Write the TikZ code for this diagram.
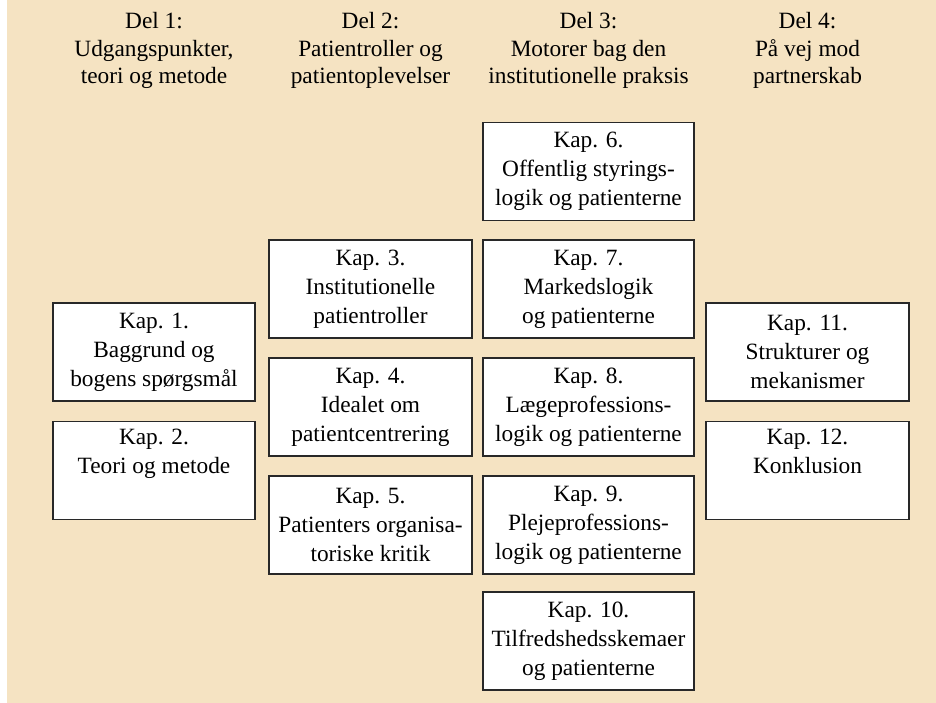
\documentclass[tikz,border=0pt]{standalone}
\usepackage{fontspec}
\setmainfont{Liberation Serif}
\definecolor{bg}{RGB}{245,227,194}
\definecolor{edge}{RGB}{40,40,40}
\begin{document}
\begin{tikzpicture}[x=0.75pt,y=-0.75pt,
  kap/.style={draw=edge, line width=0.9pt, fill=white, align=center, inner sep=0pt,
    minimum height=73.5pt, font=\fontsize{17.5}{21.7}\selectfont},
  colA/.style={minimum width=151.5pt},
  colB/.style={minimum width=152.25pt},
  colC/.style={minimum width=158.25pt},
  colD/.style={minimum width=152.25pt},
  del/.style={align=center, inner sep=0pt, font=\fontsize{17.5}{20.4}\selectfont}]
\fill[white] (0,0) rectangle (936,703);
\fill[bg] (7,0) rectangle (936,703);
\useasboundingbox (0,0) rectangle (936,703);
% headers
\node[del] (d1) at (154,50.5) {Del 1:\\Udgangspunkter,\\teori og metode};
\node[del] (d2) at (370.5,50.5) {Del 2:\\Patientroller og\\patientoplevelser};
\node[del] (d3) at (588.5,50.5) {Del 3:\\Motorer bag den\\institutionelle praksis};
\node[del] (d4) at (807.5,50.5) {Del 4:\\På vej mod\\partnerskab};
% column 1
\node[kap,colA] (k1) at (154,352) {Kap. 1.\\Baggrund og\\bogens spørgsmål};
\node[kap,colA] (k2) at (154,470.5) {Kap. 2.\\Teori og metode\\\strut};
% column 2
\node[kap,colB] (k3) at (370.5,289) {Kap. 3.\\Institutionelle\\patientroller};
\node[kap,colB] (k4) at (370.5,407) {Kap. 4.\\Idealet om\\patientcentrering};
\node[kap,colB] (k5) at (370.5,525) {Kap. 5.\\Patienters organisa-\\toriske kritik};
% column 3
\node[kap,colC] (k6) at (588.5,171.5) {Kap. 6.\\Offentlig styrings-\\logik og patienterne};
\node[kap,colC] (k7) at (588.5,289) {Kap. 7.\\Markedslogik\\og patienterne};
\node[kap,colC] (k8) at (588.5,407) {Kap. 8.\\Lægeprofessions-\\logik og patienterne};
\node[kap,colC] (k9) at (588.5,525) {Kap. 9.\\Plejeprofessions-\\logik og patienterne};
\node[kap,colC] (k10) at (588.5,641) {Kap. 10.\\Tilfredshedsskemaer\\og patienterne};
% column 4
\node[kap,colD] (k11) at (807.5,352) {Kap. 11.\\Strukturer og\\mekanismer};
\node[kap,colD] (k12) at (807.5,470.5) {Kap. 12.\\Konklusion\\\strut};
\end{tikzpicture}
\end{document}
